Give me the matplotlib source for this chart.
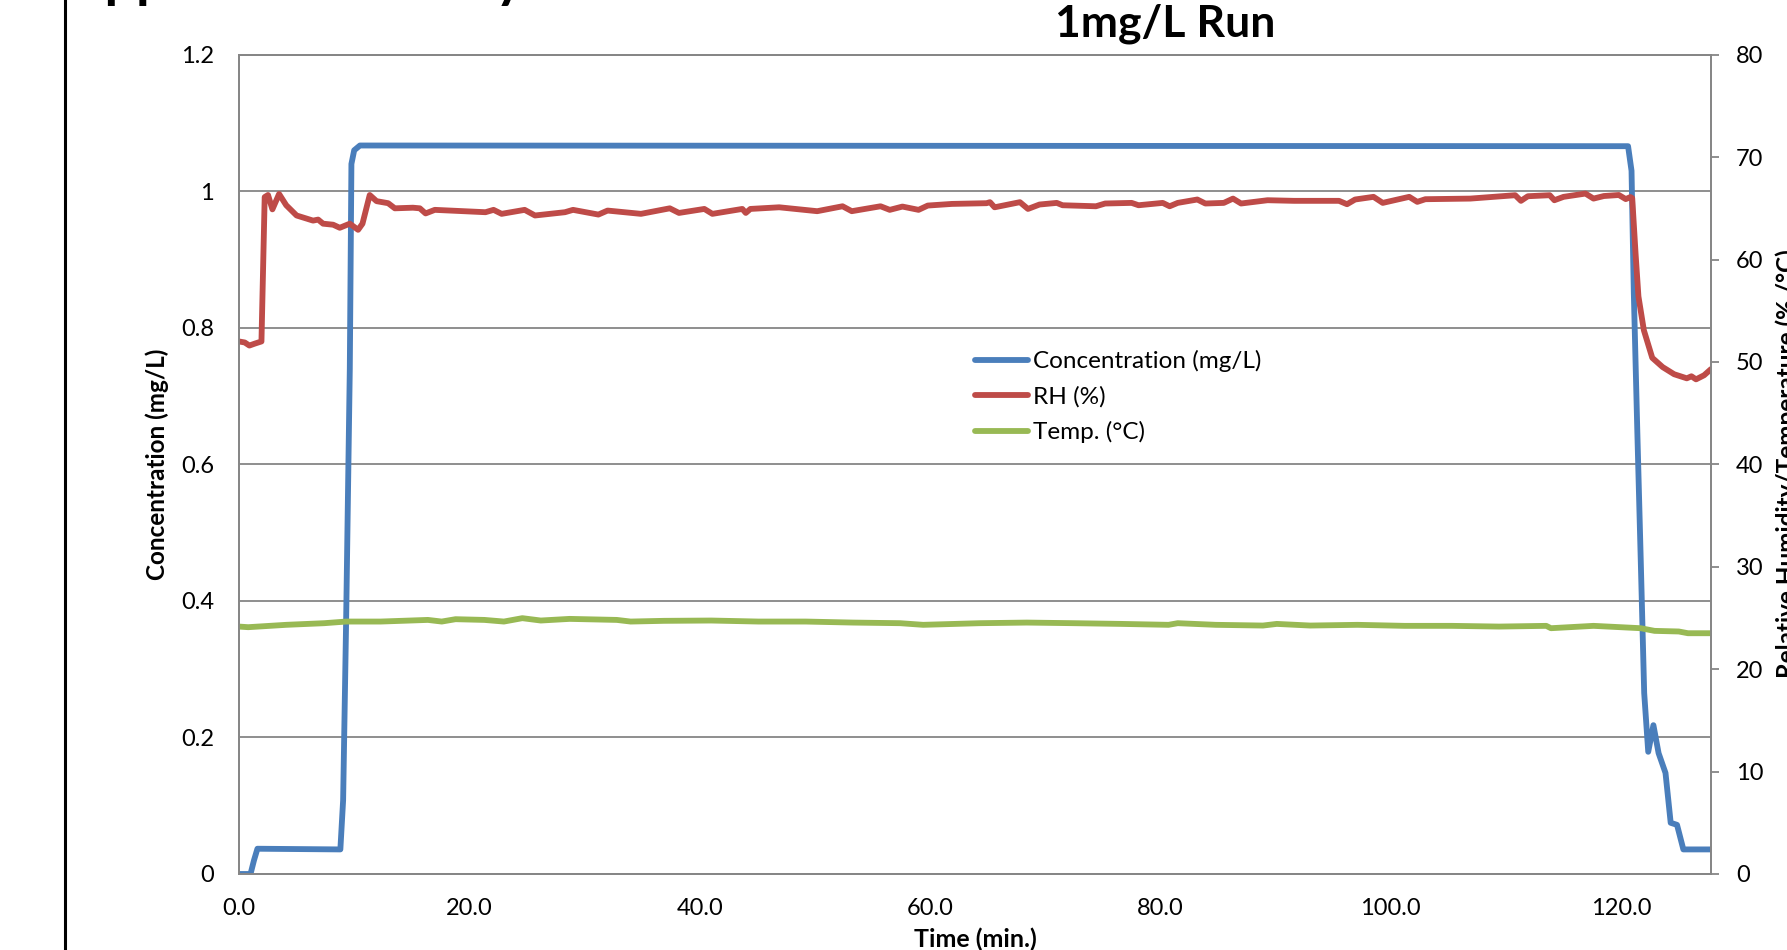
import matplotlib
matplotlib.use('Agg')
import matplotlib.pyplot as plt
from matplotlib.lines import Line2D

plt.rcParams['font.family'] = ['Lato', 'DejaVu Sans']

# concentration (mg/L), left axis
conc_t = [0.0, 1.0, 1.3, 1.6, 8.8, 9.04, 9.3, 9.62, 9.76, 10.0, 10.5,
          120.6, 120.9, 121.1, 121.4, 121.7, 122.0, 122.35, 122.8, 123.25,
          123.85, 124.3, 124.85, 125.4, 127.8]
conc_v = [0.0, 0.0, 0.02, 0.037, 0.036, 0.108, 0.37, 0.74, 1.04, 1.06, 1.067,
          1.066, 1.03, 0.85, 0.65, 0.46, 0.265, 0.179, 0.218, 0.177,
          0.148, 0.075, 0.072, 0.036, 0.036]

# relative humidity (%), right axis
rh_t = [0.0, 0.5, 0.9, 1.4, 1.95, 2.23, 2.52, 2.9, 3.48, 4.1, 5.0, 5.86,
        6.43, 6.87, 7.3, 8.17, 8.75, 9.62, 10.34, 10.72, 11.35, 11.94, 12.95,
        13.53, 15.1, 15.7, 16.2, 17.0, 21.4, 22.1, 22.8, 24.8, 25.7, 28.3,
        29.0, 31.2, 32.0, 34.9, 37.4, 38.2, 40.4, 41.1, 43.7, 44.0, 44.4,
        46.9, 50.2, 52.4, 53.2, 55.7, 56.5, 57.6, 59.0, 59.8, 61.9, 64.9,
        65.2, 65.6, 67.8, 68.5, 69.5, 71.0, 71.5, 74.4, 75.2, 77.5, 78.1,
        80.2, 80.8, 81.5, 83.2, 83.9, 85.5, 86.3, 87.0, 89.3, 91.6, 95.5,
        96.2, 96.9, 98.5, 99.3, 101.6, 102.3, 103.0, 106.9, 110.8, 111.3,
        111.9, 113.8, 114.2, 115.0, 116.9, 117.6, 118.5, 119.8, 120.4, 120.8,
        120.96, 121.25, 121.5, 121.97, 122.7, 123.6, 124.6, 125.7, 126.1,
        126.5, 127.2, 127.8]
rh_v = [52.0, 51.9, 51.6, 51.8, 52.0, 66.1, 66.3, 64.9, 66.4, 65.3, 64.3, 64.0,
        63.8, 63.9, 63.5, 63.4, 63.1, 63.5, 62.9, 63.5, 66.3, 65.7, 65.5,
        65.0, 65.06, 65.0, 64.5, 64.85, 64.62, 64.85, 64.46, 64.85, 64.3, 64.62,
        64.85, 64.39, 64.78, 64.46, 65.0, 64.55, 64.94, 64.46, 64.94, 64.55, 64.94,
        65.1, 64.72, 65.2, 64.72, 65.2, 64.85, 65.17, 64.85, 65.27, 65.43, 65.5,
        65.6, 65.1, 65.6, 64.94, 65.37, 65.53, 65.3, 65.2, 65.47, 65.53, 65.3,
        65.53, 65.2, 65.53, 65.86, 65.47, 65.53, 65.95, 65.47, 65.79, 65.73, 65.73,
        65.4, 65.86, 66.12, 65.53, 66.12, 65.63, 65.89, 65.95, 66.28, 65.73,
        66.18, 66.28, 65.79, 66.12, 66.44, 65.95, 66.2, 66.3, 65.9, 66.1,
        66.0, 60.6, 56.4, 53.1, 50.4, 49.5, 48.8, 48.4, 48.6,
        48.3, 48.7, 49.3]

# temperature (C), right axis
temp_t = [0.0, 0.8, 4.1, 7.4, 9.3, 12.3, 16.4, 17.6, 18.8, 21.3, 23.0, 24.6,
          26.2, 28.7, 32.8, 34.0, 36.9, 41.0, 45.1, 49.2, 53.3, 57.4, 59.4,
          64.3, 68.4, 72.5, 76.6, 80.7, 81.5, 84.8, 88.9, 90.1, 93.0, 97.1,
          101.2, 105.3, 109.4, 113.5, 113.9, 117.6, 121.7, 122.9, 125.0, 125.8,
          127.8]
temp_v = [24.16, 24.1, 24.33, 24.49, 24.65, 24.65, 24.81, 24.65, 24.88, 24.81,
          24.65, 24.98, 24.75, 24.91, 24.81, 24.65, 24.72, 24.75, 24.65, 24.65,
          24.55, 24.49, 24.33, 24.49, 24.55, 24.49, 24.42, 24.33, 24.49, 24.33,
          24.26, 24.42, 24.26, 24.33, 24.23, 24.23, 24.16, 24.23, 24.0, 24.23,
          24.0, 23.74, 23.68, 23.51, 23.51]

x_ticks = [0, 20, 40, 60, 80, 100, 120]
x_ticklabels = ['0.0', '20.0', '40.0', '60.0', '80.0', '100.0', '120.0']
left_ticks = [0, 0.2, 0.4, 0.6, 0.8, 1.0, 1.2]
left_ticklabels = ['0', '0.2', '0.4', '0.6', '0.8', '1', '1.2']
right_ticks = [0, 10, 20, 30, 40, 50, 60, 70, 80]

BLUE = '#4a7ebb'
RED = '#be4b48'
GREEN = '#98b954'
GRID = '#868686'

fig = plt.figure(figsize=(17.87, 9.5), dpi=100)
ax = fig.add_axes([239 / 1787, 1 - 874 / 950, 1472 / 1787, 819.3 / 950])
ax2 = ax.twinx()

ax.plot(conc_t, conc_v, color=BLUE, lw=4.2, solid_joinstyle='round',
        solid_capstyle='round', label='Concentration (mg/L)')
ax2.plot(rh_t, rh_v, color=RED, lw=4.2, solid_joinstyle='round',
         solid_capstyle='round', label='RH (%)')
ax2.plot(temp_t, temp_v, color=GREEN, lw=4.2, solid_joinstyle='round',
         solid_capstyle='round', label='Temp. (°C)')

ax.set_xlim(0, 127.8)
ax.set_ylim(0, 1.2)
ax2.set_ylim(0, 80)

ax.set_xticks(x_ticks)
ax.set_xticklabels(x_ticklabels)
ax.set_yticks(left_ticks)
ax.set_yticklabels(left_ticklabels)
ax2.set_yticks(right_ticks)

ax.yaxis.grid(True, color=GRID, lw=1.3)
ax.set_axisbelow(True)
ax.tick_params(axis='x', length=0, pad=17, labelsize=17)
ax.tick_params(axis='y', length=0, pad=18, labelsize=17)
ax2.tick_params(axis='y', length=6, width=1.3, color=GRID, direction='out',
                pad=12, labelsize=17)

for a in (ax, ax2):
    for sp in a.spines.values():
        sp.set_color(GRID)
        sp.set_linewidth(1.3)

handles = ax.get_lines() + ax2.get_lines()
leg = ax2.legend(handles, [h.get_label() for h in handles], frameon=False,
                 loc='upper left', bbox_to_anchor=(975 / 1787, 1 - 350 / 950),
                 bbox_transform=fig.transFigure, borderpad=0, borderaxespad=0,
                 fontsize=17.5, handlelength=2.2, handletextpad=0.2,
                 labelspacing=0.57)
for h in leg.get_lines():
    h.set_linewidth(4.2)

fig.text(1165 / 1787, 1 - 24 / 950, '1mg/L Run', fontsize=32,
         fontweight='bold', ha='center', va='center')
fig.text(975 / 1787, 1 - 939 / 950, 'Time (min.)', fontsize=18,
         fontweight='bold', ha='center', va='center')
fig.text(157 / 1787, 1 - 464 / 950, 'Concentration (mg/L)', fontsize=17.5,
         fontweight='bold', ha='center', va='center', rotation=90)
fig.text(1775 / 1787, 1 - 464 / 950, 'Relative Humidity/Temperature (% /°C)',
         fontsize=17.5, fontweight='bold', ha='left', va='center', rotation=90)

# heading of the page above, only its descenders show
fig.text(66 / 1787, 1 + 3 / 950, 'Appendix B: Study', fontsize=40,
         fontweight='bold', ha='left', va='baseline')

# page margin rule on the left
fig.add_artist(Line2D([65 / 1787, 65 / 1787], [0, 1], color='black', lw=2.2,
                      transform=fig.transFigure))

fig.savefig('out.png', dpi=100)
